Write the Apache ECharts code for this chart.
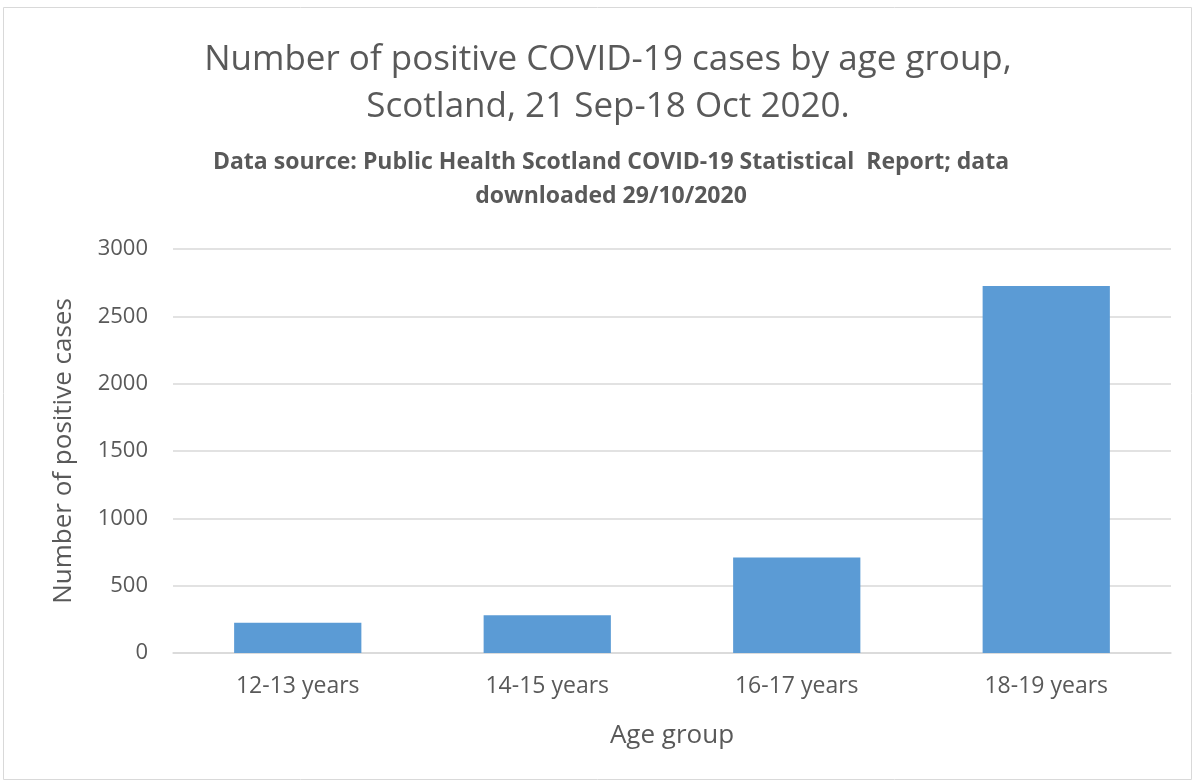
<!DOCTYPE html>
<html>
<head>
<meta charset="utf-8">
<script src="https://cdn.jsdelivr.net/npm/echarts@6/dist/echarts.min.js"></script>
<style>
  html, body { margin: 0; padding: 0; background: #fff; }
  #chart { width: 1195px; height: 783px; }
</style>
</head>
<body>
<div id="chart"></div>
<script>
var categories = ["12-13 years", "14-15 years", "16-17 years", "18-19 years"];
var cases = [225, 280, 710, 2725];
var yTicks = [0, 500, 1000, 1500, 2000, 2500, 3000];

var font = "'Open Sans', sans-serif";
var grey = "#595959";

var chart = echarts.init(document.getElementById("chart"));
chart.setOption({
  animation: false,
  title: [
    {
      text: "Number of positive COVID-19 cases by age group,\nScotland, 21 Sep-18 Oct 2020.",
      left: 603,
      top: 32,
      textAlign: "center",
      textStyle: {
        fontFamily: font,
        fontSize: 35,
        fontWeight: "normal",
        color: grey,
        lineHeight: 47
      }
    },
    {
      text: "Data source: Public Health Scotland COVID-19 Statistical  Report; data\ndownloaded 29/10/2020",
      left: 606,
      top: 140,
      textAlign: "center",
      textStyle: {
        fontFamily: font,
        fontSize: 23,
        fontWeight: "bold",
        color: grey,
        lineHeight: 34
      }
    }
  ],
  graphic: [
    {
      type: "rect",
      shape: { x: 3.5, y: 7.5, width: 1188, height: 772 },
      style: { fill: "none", stroke: "#d9d9d9", lineWidth: 1 }
    }
  ],
  grid: { left: 173, right: 24, top: 249, bottom: 130, containLabel: false },
  xAxis: {
    type: "category",
    data: categories,
    name: "Age group",
    nameLocation: "middle",
    nameGap: 70,
    nameTextStyle: { fontFamily: font, fontSize: 26, color: grey },
    axisLine: { lineStyle: { color: "#d9d9d9", width: 1.5 } },
    axisTick: { show: false },
    axisLabel: { fontFamily: font, fontSize: 23, color: grey, margin: 22 }
  },
  yAxis: {
    type: "value",
    min: yTicks[0],
    max: yTicks[yTicks.length - 1],
    interval: 500,
    name: "Number of positive cases",
    nameLocation: "middle",
    nameGap: 96,
    nameTextStyle: { fontFamily: font, fontSize: 26, color: grey },
    axisLine: { show: false },
    axisTick: { show: false },
    axisLabel: {
      fontFamily: font,
      fontSize: 22,
      color: grey,
      margin: 25,
      formatter: function (v) { return String(v); }
    },
    splitLine: { lineStyle: { color: "#d9d9d9", width: 1.5 } }
  },
  series: [
    {
      type: "bar",
      data: cases,
      barWidth: "51%",
      itemStyle: { color: "#5b9bd5" }
    }
  ]
});
</script>
</body>
</html>
